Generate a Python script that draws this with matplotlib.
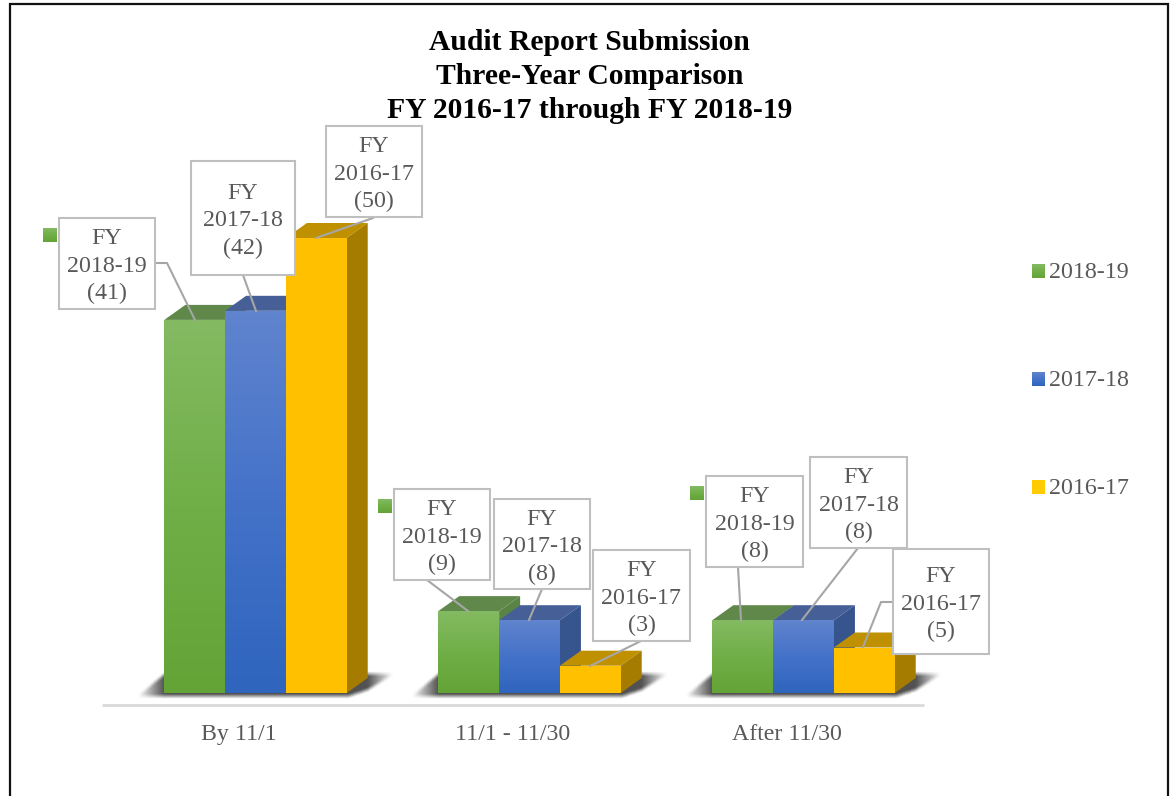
import numpy as np
import matplotlib
matplotlib.use("Agg")
import matplotlib.pyplot as plt
from matplotlib.patches import Rectangle
from matplotlib.path import Path

# ---------- data ----------
categories = ["By 11/1", "11/1 - 11/30", "After 11/30"]
series_names = ["2018-19", "2017-18", "2016-17"]
values_2018_19 = [41, 9, 8]
values_2017_18 = [42, 8, 8]
values_2016_17 = [50, 3, 5]
title_lines = ["Audit Report Submission", "Three-Year Comparison", "FY 2016-17 through FY 2018-19"]

# ---------- style ----------
SERIF = "Liberation Serif"
TXT = "#595959"
W, H = 1171, 796
PX_X = 274.0      # pixels per category
PX_Y = 9.1        # pixels per unit of value
DEPTH_X = 21 / PX_X
DEPTH_Y = 15 / PX_Y
BAR_W = 60.8 / PX_X
GROUP_SHIFT = 0.0603

front_top = ["#84BA62", "#6084CE", "#FFC000"]
front_mid = ["#70AF47", "#4472C9", "#FFC000"]
front_bot = ["#64A336", "#2F65BD", "#FFC000"]
top_face = ["#5F884A", "#466097", "#BF9000"]
side_face = ["#5A8446", "#36558F", "#A67C00"]

fig = plt.figure(figsize=(W / 100, H / 100), dpi=100, facecolor="white")

# data axes: 0 at pixel y=693, axis line at y=705, x from 102 to 924
ax = fig.add_axes([102 / W, 1 - 705 / H, 822 / W, (705 - 100) / H])
ax.set_facecolor("none")
xlim = (-0.5, 2.5)
ylim = (-12 / PX_Y, (693 - 100) / PX_Y)


def ramp(c1, c2, c3, n=128):
    a = np.array(matplotlib.colors.to_rgb(c1))
    b = np.array(matplotlib.colors.to_rgb(c2))
    c = np.array(matplotlib.colors.to_rgb(c3))
    t = np.linspace(0, 1, n)[:, None]
    col = np.where(t < 0.5, a + (b - a) * t * 2, b + (c - b) * (t - 0.5) * 2)
    return col[:, None, :]


def blur(a, k):
    kernel = np.ones(k) / k
    a = np.apply_along_axis(lambda r: np.convolve(r, kernel, mode="same"), 0, a)
    a = np.apply_along_axis(lambda r: np.convolve(r, kernel, mode="same"), 1, a)
    return a


all_values = [values_2018_19, values_2017_18, values_2016_17]
x_idx = np.arange(len(categories))

# soft floor shadows: blurred polygon, fading towards the outer tips
for g in x_idx:
    left = g + GROUP_SHIFT - 1.5 * BAR_W
    right = g + GROUP_SHIFT + 1.5 * BAR_W
    l_out = left - 27 / PX_X
    r_out = right + DEPTH_X + 26 / PX_X
    y0, y1 = -4.0 / PX_Y, 19 / PX_Y
    pad_x, pad_y = 8 / PX_X, 8 / PX_Y
    xs = np.linspace(l_out - pad_x, r_out + pad_x, 340)
    ys = np.linspace(y0 - pad_y, y1 + pad_y, 40)
    gx, gy = np.meshgrid(xs, ys)
    outline = Path([(l_out, y0), (left, y1), (r_out, y1), (right + DEPTH_X, 3 / PX_Y), (right, y0), (l_out, y0)])
    mask = outline.contains_points(np.c_[gx.ravel(), gy.ravel()]).reshape(gx.shape).astype(float)
    fade = np.clip(np.minimum((gx - l_out) / (left - l_out), (r_out - gx) / (r_out - right - DEPTH_X)), 0, 1)
    alpha = blur(mask * fade, 5) * 0.85
    img = np.zeros(alpha.shape + (4,))
    img[..., :3] = 0.2
    img[..., 3] = alpha
    ax.imshow(img, extent=(xs[0], xs[-1], ys[0], ys[-1]), origin="lower", aspect="auto", zorder=1,
              interpolation="bilinear", clip_on=False)

# 3-D bars, left to right so each front face hides its neighbour's side
z = 2
for g in x_idx:
    for s, vals in enumerate(all_values):
        v = vals[g]
        xc = g + GROUP_SHIFT + (s - 1) * BAR_W
        x0, x1 = xc - BAR_W / 2, xc + BAR_W / 2
        ax.fill([x0, x1, x1 + DEPTH_X, x0 + DEPTH_X], [v, v, v + DEPTH_Y, v + DEPTH_Y],
                color=top_face[s], lw=0, zorder=z)
        ax.fill([x1, x1 + DEPTH_X, x1 + DEPTH_X, x1], [0, DEPTH_Y, v + DEPTH_Y, v],
                color=side_face[s], lw=0, zorder=z)
        bar = ax.bar(xc, v, BAR_W, color=front_mid[s], lw=0, zorder=z + 1)[0]
        if front_top[s] != front_bot[s]:
            im = ax.imshow(ramp(front_bot[s], front_mid[s], front_top[s]), extent=(x0, x1, 0, v),
                           origin="lower", aspect="auto", zorder=z + 1.5, interpolation="bilinear")
            im.set_clip_path(bar)
        z += 2

ax.set_xlim(*xlim)
ax.set_ylim(*ylim)
ax.set_xticks(x_idx)
ax.set_xticklabels(categories, fontfamily=SERIF, fontsize=17.2, color=TXT)
ax.tick_params(axis="x", length=0, pad=14)
ax.set_yticks([])
for k in ("left", "right", "top"):
    ax.spines[k].set_visible(False)
ax.spines["bottom"].set_color("#D9D9D9")
ax.spines["bottom"].set_linewidth(2)
ax.spines["bottom"].set_capstyle("butt")

# overlay in pixel coordinates for page furniture
ov = fig.add_axes([0, 0, 1, 1], facecolor="none")
ov.set_xlim(0, W)
ov.set_ylim(H, 0)
ov.axis("off")

# page border (no bottom edge)
ov.plot([9.5, 9.5, 1167.5, 1167.5], [H, 3.5, 3.5, H], color="#111111", lw=1.6, solid_joinstyle="miter")

# title
for line, y in zip(title_lines, [43, 77, 111]):
    ov.text(589.5, y, line, family=SERIF, weight="bold", fontsize=21.3, color="black", ha="center", va="center")

# data-label boxes: (left, top, right, bottom) per series per group
boxes = {
    (0, 0): (59, 218, 155, 309), (0, 1): (191, 161, 295, 275), (0, 2): (326, 126, 422, 217),
    (1, 0): (394, 489, 490, 580), (1, 1): (494, 499, 590, 589), (1, 2): (593, 550, 690, 641),
    (2, 0): (706, 476, 803, 567), (2, 1): (810, 457, 907, 548), (2, 2): (893, 549, 989, 654),
}
leaders = {
    (0, 0): [(155, 263), (167, 263), (195, 320)], (0, 1): [(243, 275), (256, 311)], (0, 2): [(373, 218), (316, 238)],
    (1, 0): [(427, 580), (468, 611)], (1, 1): [(542, 589), (529, 620)], (1, 2): [(641, 641), (590, 666)],
    (2, 0): [(738, 567), (741, 620)], (2, 1): [(858, 548), (802, 620)], (2, 2): [(893, 602), (881, 602), (863, 647)],
}
for g in x_idx:
    for s, vals in enumerate(all_values):
        pts = np.array(leaders[(int(g), s)])
        ov.plot(pts[:, 0], pts[:, 1], color="#A6A6A6", lw=1.5, zorder=3)
for g in x_idx:
    for s, vals in enumerate(all_values):
        l, t, r, b = boxes[(int(g), s)]
        ov.add_patch(Rectangle((l, t), r - l, b - t, fc="white", ec="#BFBFBF", lw=1.5, zorder=4))
        ov.text((l + r) / 2, (t + b) / 2 + 3, f"FY\n{series_names[s]}\n({vals[g]})", family=SERIF, fontsize=17.3,
                color=TXT, ha="center", va="center", ma="center", linespacing=1.4, zorder=5)

# stray legend keys that sit beside the first label of each group
for l, t in [(43, 229), (378, 500), (690, 487)]:
    ov.imshow(ramp(front_top[0], front_mid[0], front_bot[0]), extent=(l, l + 13.5, t + 13.5, t), origin="upper",
              aspect="auto", zorder=2)

# legend
key_colors = [(front_top[0], front_mid[0], front_bot[0]), (front_top[1], front_mid[1], front_bot[1]),
              ("#FFCC00", "#FFCC00", "#FFCC00")]
for name, y, cols in zip(series_names, [271, 379, 487], key_colors):
    ov.imshow(ramp(*cols), extent=(1032, 1045, y + 7, y - 7), origin="upper", aspect="auto", zorder=2)
    ov.text(1049, y + 2, name, family=SERIF, fontsize=17.3, color=TXT, ha="left", va="center")

ov.set_xlim(0, W)
ov.set_ylim(H, 0)

fig.savefig("out.png", dpi=100)
